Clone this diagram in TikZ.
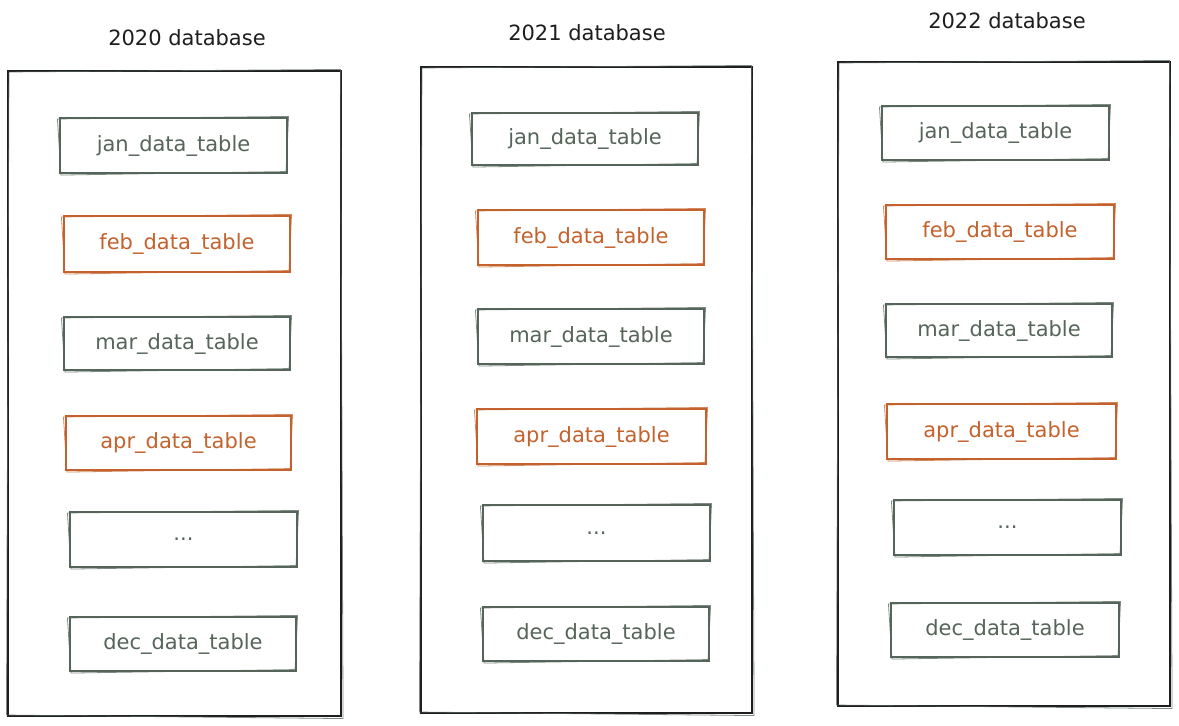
\documentclass[tikz,border=0pt]{standalone}
\usepackage{fontspec}
\setmainfont{DejaVu Sans}
\definecolor{tgreen}{HTML}{56655A}
\definecolor{torange}{HTML}{C4622D}
\definecolor{tdark}{HTML}{1E1E1E}
\tikzset{
  tablebox/.style={draw=#1, text=#1, line width=1.1pt, inner sep=0pt,
    font=\fontsize{21}{24}\selectfont},
  outerbox/.style={draw=tdark, line width=1.1pt, inner sep=0pt},
  title/.style={text=tdark, font=\fontsize{21}{24}\selectfont},
  sketch/.style={draw=#1, line width=0.8pt, opacity=0.75}
}
% name, x1, y1, x2, y2, color, text
\newcommand\tbox[7]{%
  \node[tablebox=#6, minimum width={#4-#2}, minimum height={#5-#3}]
    (#1) at ({(#2+#4)/2},{(#3+#5)/2}) {#7};
  \draw[sketch=#6] ([shift={(-2,1.5)}]#1.north west) -- ([shift={(1,-1)}]#1.north east)
    -- ([shift={(-1.5,-2)}]#1.south east) -- ([shift={(1.5,1.5)}]#1.south west) -- cycle;
}
\newcommand\obox[5]{%
  \node[outerbox, minimum width={#4-#2}, minimum height={#5-#3}]
    (#1) at ({(#2+#4)/2},{(#3+#5)/2}) {};
  \draw[sketch=tgreen] ([shift={(1.5,1.5)}]#1.north west) -- ([shift={(-1,-1)}]#1.north east)
    -- ([shift={(1.5,2)}]#1.south east) -- ([shift={(-1,-1.5)}]#1.south west) -- cycle;
}
\begin{document}
\begin{tikzpicture}[x=1pt,y=-1pt]
\useasboundingbox[fill=white] (0,0) rectangle (1179,726);
% column 1
\node[title] (t1) at (187,38) {2020 database};
\obox{o1}{8}{71}{341}{716}
\tbox{a1}{60}{118}{287}{173}{tgreen}{jan\_data\_table}
\tbox{b1}{64}{216}{290}{272}{torange}{feb\_data\_table}
\tbox{c1}{64}{317}{290}{370}{tgreen}{mar\_data\_table}
\tbox{d1}{66}{416}{291}{470}{torange}{apr\_data\_table}
\tbox{e1}{70}{512}{297}{567}{tgreen}{...}
\tbox{f1}{70}{617}{296}{671}{tgreen}{dec\_data\_table}
% column 2
\node[title] (t2) at (587,33) {2021 database};
\obox{o2}{421}{67}{752}{713}
\tbox{a2}{472}{113}{698}{165}{tgreen}{jan\_data\_table}
\tbox{b2}{478}{210}{704}{265}{torange}{feb\_data\_table}
\tbox{c2}{478}{309}{704}{364}{tgreen}{mar\_data\_table}
\tbox{d2}{477}{409}{706}{464}{torange}{apr\_data\_table}
\tbox{e2}{483}{505}{710}{561}{tgreen}{...}
\tbox{f2}{483}{607}{709}{661}{tgreen}{dec\_data\_table}
% column 3
\node[title] (t3) at (1007,21) {2022 database};
\obox{o3}{838}{62}{1170}{706}
\tbox{a3}{882}{106}{1109}{160}{tgreen}{jan\_data\_table}
\tbox{b3}{886}{205}{1114}{259}{torange}{feb\_data\_table}
\tbox{c3}{886}{304}{1112}{357}{tgreen}{mar\_data\_table}
\tbox{d3}{887}{404}{1116}{459}{torange}{apr\_data\_table}
\tbox{e3}{894}{500}{1121}{555}{tgreen}{...}
\tbox{f3}{891}{603}{1119}{657}{tgreen}{dec\_data\_table}
\end{tikzpicture}
\end{document}
